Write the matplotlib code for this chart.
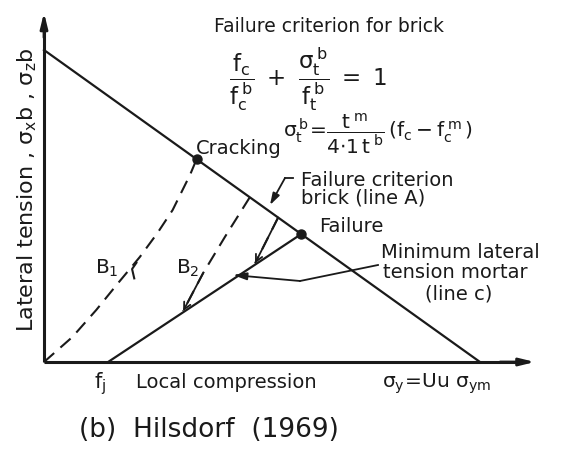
import numpy as np
import matplotlib
matplotlib.use("Agg")
import matplotlib.pyplot as plt

plt.rcParams["font.family"] = ["DejaVu Sans"]
plt.rcParams["mathtext.fontset"] = "custom"
plt.rcParams["mathtext.rm"] = "DejaVu Sans"
plt.rcParams["mathtext.it"] = "DejaVu Sans"
plt.rcParams["mathtext.bf"] = "DejaVu Sans:bold"

# Normalised stresses: local compression on x (sigma_y at 1), lateral tension on y (sigma_zb at 1)
line_a_x = [0.0, 1.0]
line_a_y = [1.0, 0.0]
f_j = 0.147
cracking = (0.35, 0.65)
failure = (0.59, 0.41)
line_c_x = [f_j, failure[0]]
line_c_y = [0.0, failure[1]]

# brick stress paths
b1_x = [0.0, 0.065, 0.12, 0.17, 0.22, 0.26, 0.295, 0.335, 0.35]
b1_y = [0.0, 0.08, 0.167, 0.253, 0.337, 0.413, 0.487, 0.60, 0.65]
b2_x = [0.472, 0.415, 0.365, 0.319]
b2_y = [0.528, 0.401, 0.285, 0.163]
b3_x = [0.537, 0.484]
b3_y = [0.463, 0.316]

axis_end_x = 1.126
axis_end_y = 1.12

X0, X1 = 44.0, 480.0
Y0, Y1 = 362.0, 50.0


def px(x, y):
    """pixel position -> diagram units"""
    return (x - X0) / (X1 - X0), (Y0 - y) / (Y0 - Y1)


fig = plt.figure(figsize=(5.68, 4.53), dpi=100)
ax = fig.add_axes([0, 0, 1, 1])
ax.set_xlim(px(0, 0)[0], px(568, 0)[0])
ax.set_ylim(px(0, 453)[1], px(0, 0)[1])
ax.axis("off")

k = "#1a1a1a"
dash = (0, (6.5, 4))

# axes with arrows
ax.plot([0, 0], [0, axis_end_y - 0.03], color=k, lw=2.2, solid_capstyle="butt")
ax.plot([0, axis_end_x - 0.03], [0, 0], color=k, lw=2.2, solid_capstyle="butt")
ax.annotate("", xy=(0, axis_end_y), xytext=(0, axis_end_y - 0.08),
            arrowprops=dict(arrowstyle="-|>,head_length=0.9,head_width=0.22",
                            color=k, lw=2.0, shrinkA=0, shrinkB=0))
ax.annotate("", xy=(axis_end_x, 0), xytext=(axis_end_x - 0.08, 0),
            arrowprops=dict(arrowstyle="-|>,head_length=0.9,head_width=0.22",
                            color=k, lw=2.0, shrinkA=0, shrinkB=0))

# failure criterion for brick (line A) and mortar line c
ax.plot(line_a_x, line_a_y, color=k, lw=1.6)
ax.plot(line_c_x, line_c_y, color=k, lw=1.6)

# stress paths
ax.plot(b1_x, b1_y, color=k, lw=1.5, ls=dash)
ax.plot(b2_x, b2_y, color=k, lw=1.5, ls=dash)
ax.plot(b3_x, b3_y, color=k, lw=1.5, ls=dash)
for bx, by in ((b2_x, b2_y), (b3_x, b3_y)):
    ax.annotate("", xy=(bx[-1], by[-1]), xytext=(bx[-2], by[-2]),
                arrowprops=dict(arrowstyle="->,head_length=0.5,head_width=0.25",
                                color=k, lw=1.3, shrinkA=0, shrinkB=0))

# small marker on path B1
ax.plot([0.212, 0.202, 0.207], [0.318, 0.298, 0.268], color=k, lw=1.5)

# cracking and failure points
ax.plot(*cracking, "o", color=k, ms=6.5)
ax.plot(*failure, "o", color=k, ms=6.5)

# leaders
la = [px(293, 178), px(285, 178), px(270, 205)]
ax.plot([la[0][0], la[1][0]], [la[0][1], la[1][1]], color=k, lw=1.3)
ax.annotate("", xy=la[2], xytext=la[1],
            arrowprops=dict(arrowstyle="-|>,head_length=0.7,head_width=0.22",
                            color=k, lw=1.3, shrinkA=0, shrinkB=0))
lc = [px(378, 265), px(300, 281), px(233, 275)]
ax.plot([lc[0][0], lc[1][0]], [lc[0][1], lc[1][1]], color=k, lw=1.3)
ax.annotate("", xy=lc[2], xytext=lc[1],
            arrowprops=dict(arrowstyle="-|>,head_length=0.8,head_width=0.22",
                            color=k, lw=1.3, shrinkA=0, shrinkB=0))

fs = 14


def T(x, y, s, size=fs, **kw):
    kw.setdefault("ha", "left")
    kw.setdefault("va", "center")
    ax.text(*px(x, y), s, fontsize=size, color=k, **kw)


T(214, 26, "Failure criterion for brick", size=13.5)
T(229, 79, r"$\dfrac{f_c}{f_c^{\,b}}\ +\ \dfrac{\sigma_t^{\,b}}{f_t^{\,b}}\ =\ 1$", size=16.5)
T(196, 148, "Cracking")
T(283, 134, r"$\sigma_t^{\,b}\!=\!\dfrac{t^{\,m}}{4{\cdot}1\,t^{\,b}}\,(f_c - f_c^{\,m}\,)$", size=14.5)
T(301, 180, "Failure criterion")
T(301, 198, "brick (line A)")
T(319, 227, "Failure")
T(381, 253, "Minimum lateral")
T(383, 273, "tension mortar")
T(425, 294, "(line c)")
T(95, 268, r"$\mathrm{B}_1$", size=14.5)
T(176, 268, r"$\mathrm{B}_2$", size=14.5)
T(94, 384, r"$f_j$", size=15)
T(136, 382, "Local compression")
T(382, 384, r"$\sigma_y\!=\!\mathrm{Uu}\ \sigma_{ym}$", size=14.5)
T(79, 430, "(b)  Hilsdorf  (1969)", size=19)
ax.text(*px(27, 190), r"Lateral tension , $\sigma_x$b , $\sigma_z$b", fontsize=16,
        color=k, rotation=90, ha="center", va="center")

fig.savefig("out.png", dpi=100)
